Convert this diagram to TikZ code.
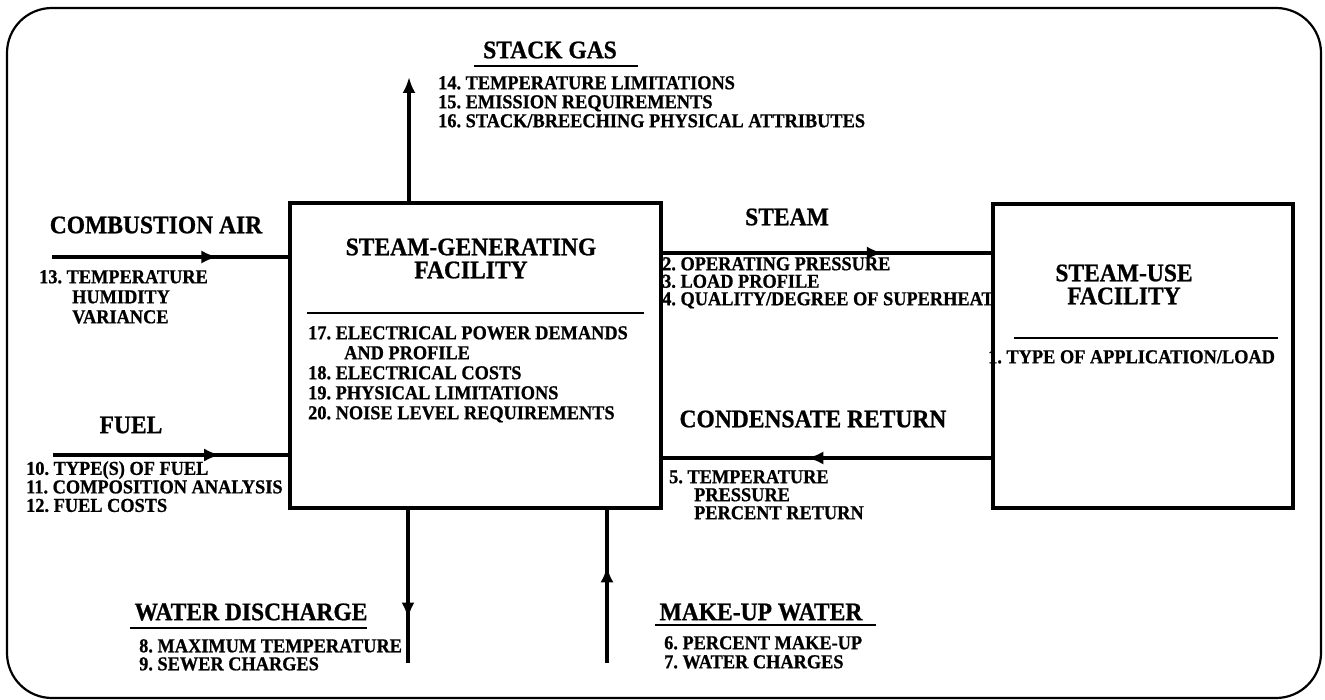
\documentclass[tikz,border=0pt]{standalone}
\usepackage{fontspec}
\setmainfont{Liberation Serif}[BoldFeatures={FakeBold=0.8,FakeStretch=0.93}]
\usetikzlibrary{arrows.meta,decorations.markings}
\frenchspacing

\tikzset{
  facility/.style={draw, rectangle, line width=3.2pt, inner sep=0pt},
  head/.style={font=\fontsize{25.3}{23}\selectfont\bfseries, inner sep=0pt},
  items/.style={font=\fontsize{19.7}{#1}\selectfont\bfseries, align=left, anchor=north west, inner sep=0pt},
  items/.default=19,
  flow/.style={line width=3.4pt},
  rule/.style={line width=2.8pt},
  midarrow/.style={postaction={decorate}, decoration={markings,
      mark=at position #1 with {\arrow{Latex[length=16pt,width=13pt]}}}},
}

\begin{document}
\begin{tikzpicture}[x=1pt,y=-1pt]
        \useasboundingbox (0,0) rectangle (1325,700);

        % Cadre
        \draw[line width=2.2pt, rounded corners=45pt] (7,8) rectangle (1321,698);

        % Installations
        \node[facility, minimum width=371pt, minimum height=305pt] (gen) at (475.5,355.5) {};
        \node[facility, minimum width=300pt, minimum height=304pt] (use) at (1143,356) {};

        \node[head, align=center] (gentitle) at (471,258.5) {STEAM-GENERATING\\FACILITY};
        \draw[rule] (307,313) -- (644,313);
        \node[items=20] (genlist) at (308,326) {17. ELECTRICAL POWER DEMANDS\\\hspace*{36pt}AND PROFILE\\18. ELECTRICAL COSTS\\19. PHYSICAL LIMITATIONS\\20. NOISE LEVEL REQUIREMENTS};

        \node[head, align=center] (usetitle) at (1124,284.5) {STEAM-USE\\FACILITY};
        \draw[rule] (1014,338) -- (1278,338);
        \node[items] (uselist) at (988,350) {1. TYPE OF APPLICATION/LOAD};

        % Gaz de cheminee
        \node[head] (stackgas) at (550,50) {STACK GAS};
        \draw[rule] (474,66) -- (638,66);
        \node[items] (stacklist) at (438,76) {14. TEMPERATURE LIMITATIONS\\15. EMISSION REQUIREMENTS\\16. STACK/BREECHING PHYSICAL ATTRIBUTES};
        \coordinate (stackout) at (409,77);
        \draw[flow, -{Latex[length=16pt,width=13pt]}] (stackout |- gen.north) -- (stackout);

        % Air de combustion
        \node[head] (air) at (156,225) {COMBUSTION AIR};
        \coordinate (airin) at (52,257);
        \draw[flow, midarrow=0.70] (airin) -- (airin -| gen.west);
        \node[items=20] (airlist) at (39,270) {13. TEMPERATURE\\\hspace*{33pt}HUMIDITY\\\hspace*{33pt}VARIANCE};

        % Combustible
        \node[head] (fuel) at (131,425) {FUEL};
        \coordinate (fuelin) at (53,455);
        \draw[flow, midarrow=0.71] (fuelin) -- (fuelin -| gen.west);
        \node[items=18.5] (fuellist) at (26,461) {10. TYPE(S) OF FUEL\\11. COMPOSITION ANALYSIS\\12. FUEL COSTS};

        % Vapeur
        \node[head] (steam) at (787,217) {STEAM};
        \coordinate (steamlvl) at (800,253);
        \draw[flow, midarrow=0.67] (steamlvl -| gen.east) -- (steamlvl -| use.west);
        \node[items=17.5] (steamlist) at (662,257) {2. OPERATING PRESSURE\\3. LOAD PROFILE\\4. QUALITY/DEGREE OF SUPERHEAT};

        % Retour des condensats
        \node[head] (cond) at (813,419) {CONDENSATE RETURN};
        \coordinate (condlvl) at (800,458);
        \draw[flow, midarrow=0.56] (condlvl -| use.west) -- (condlvl -| gen.east);
        \node[items=18] (condlist) at (669,470) {5. TEMPERATURE\\\hspace*{25pt}PRESSURE\\\hspace*{25pt}PERCENT RETURN};

        % Rejet d'eau
        \node[head] (disch) at (251,612) {WATER DISCHARGE};
        \draw[rule] (130,628) -- (367,628);
        \coordinate (dischout) at (408,663);
        \draw[flow, midarrow=0.71] (dischout |- gen.south) -- (dischout);
        \node[items=18] (dischlist) at (139,639) {8. MAXIMUM TEMPERATURE\\9. SEWER CHARGES};

        % Eau d'appoint
        \node[head] (makeup) at (761,612) {MAKE-UP WATER};
        \draw[rule] (655,625) -- (876,625);
        \coordinate (makeupin) at (607,663);
        \draw[flow, midarrow=0.63] (makeupin) -- (makeupin |- gen.south);
        \node[items=19] (makeuplist) at (664,636) {6. PERCENT MAKE-UP\\7. WATER CHARGES};
\end{tikzpicture}
\end{document}
